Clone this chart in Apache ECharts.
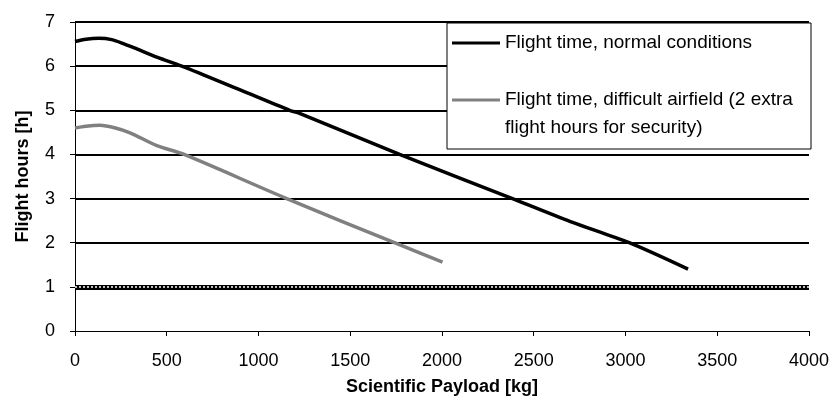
<!DOCTYPE html>
<html>
<head>
<meta charset="utf-8">
<script src="https://cdn.jsdelivr.net/npm/echarts@6/dist/echarts.min.js"></script>
<style>
  html, body { margin: 0; padding: 0; background: #fff; }
  #chart { width: 832px; height: 409px; }
</style>
</head>
<body>
<div id="chart"></div>
<script>
// Payload (kg) vs. flight hours
const normalPayload = [0, 60, 130, 200, 270, 337, 450, 582, 900, 1170, 1224, 1769, 2384, 2700, 3020, 3341];
const normalHours   = [6.56, 6.61, 6.63, 6.6, 6.5, 6.39, 6.2, 6.0, 5.46, 5.0, 4.93, 4.0, 3.0, 2.48, 2.0, 1.4];

const difficultPayload = [0, 60, 136, 220, 300, 446, 588, 1154, 1741, 2003];
const difficultHours   = [4.6, 4.64, 4.66, 4.6, 4.49, 4.2, 4.01, 3.0, 2.0, 1.56];

const xTicks = { min: 0, max: 4000, step: 500 };
const yTicks = { min: 0, max: 7, step: 1 };
const limitHours = 1;

const nameNormal = 'Flight time, normal conditions';
const nameDifficult = 'Flight time, difficult airfield (2 extra flight hours for security)';
const difficultLines = ['Flight time, difficult airfield (2 extra', 'flight hours for security)'];

const FONT = 'Liberation Sans';

function pairs(xs, ys) { return xs.map((x, i) => [x, ys[i]]); }

const chart = echarts.init(document.getElementById('chart'));

const gridColors = [];
for (let v = yTicks.min; v <= yTicks.max; v += yTicks.step) {
  gridColors.push(v <= limitHours ? 'rgba(0,0,0,0)' : '#000');
}

chart.setOption({
  animation: false,
  backgroundColor: '#fff',
  grid: { left: 75, right: 22, top: 22, bottom: 78, containLabel: false },
  xAxis: {
    type: 'value',
    min: xTicks.min, max: xTicks.max, interval: xTicks.step,
    name: 'Scientific Payload [kg]',
    nameLocation: 'middle',
    nameGap: 47,
    nameMoveOverlap: false,
    nameTextStyle: { fontFamily: FONT, fontWeight: 'bold', fontSize: 18, color: '#000' },
    axisLine: { lineStyle: { color: '#000', width: 1 } },
    axisTick: { show: true, inside: false, length: 5, lineStyle: { color: '#000' } },
    axisLabel: { fontFamily: FONT, fontSize: 18, color: '#000', margin: 21, formatter: v => String(v) },
    splitLine: { show: false }
  },
  yAxis: {
    type: 'value',
    min: yTicks.min, max: yTicks.max, interval: yTicks.step,
    name: 'Flight hours [h]',
    nameLocation: 'middle',
    nameGap: 43,
    nameMoveOverlap: false,
    nameTextStyle: { fontFamily: FONT, fontWeight: 'bold', fontSize: 18, color: '#000' },
    axisLine: { show: true, lineStyle: { color: '#000', width: 1 } },
    axisTick: { show: true, inside: false, length: 5, lineStyle: { color: '#000' } },
    axisLabel: { fontFamily: FONT, fontSize: 18, color: '#000', margin: 20 },
    splitLine: { show: true, lineStyle: { color: gridColors, width: 2 } }
  },
  legend: [
    {
      data: [nameNormal],
      left: 452, top: 33,
      padding: 0,
      icon: 'rect', itemWidth: 48, itemHeight: 3,
      selectedMode: false, z: 12,
      textStyle: { fontFamily: FONT, fontSize: 19, color: '#000', lineHeight: 20 }
    },
    {
      data: [nameDifficult],
      left: 452, top: 58,
      padding: 0,
      icon: 'rect', itemWidth: 48, itemHeight: 3,
      selectedMode: false, z: 12,
      // blank leading line keeps the swatch level with the first text line
      formatter: () => '\n' + difficultLines.join('\n'),
      textStyle: { fontFamily: FONT, fontSize: 19, color: '#000', lineHeight: 28 }
    }
  ],
  graphic: [
    {
      type: 'rect', z: 10,
      shape: { x: 447, y: 23, width: 364, height: 126 },
      style: { fill: '#fff', stroke: '#000', lineWidth: 1 }
    }
  ],
  series: [
    {
      name: 'limit-base', type: 'line', data: [], silent: true,
      markLine: {
        silent: true, symbol: ['none', 'none'], label: { show: false },
        lineStyle: { color: '#000', width: 5, type: 'solid' },
        data: [{ yAxis: limitHours }]
      }
    },
    {
      name: 'limit-dots', type: 'line', data: [], silent: true,
      markLine: {
        silent: true, symbol: ['none', 'none'], label: { show: false },
        lineStyle: { color: '#fff', width: 1.5, type: [2, 2] },
        data: [{ yAxis: limitHours }]
      }
    },
    {
      name: nameNormal, type: 'line',
      data: pairs(normalPayload, normalHours),
      showSymbol: false, smooth: 0.3,
      lineStyle: { color: '#000', width: 3.5 },
      itemStyle: { color: '#000' }
    },
    {
      name: nameDifficult, type: 'line',
      data: pairs(difficultPayload, difficultHours),
      showSymbol: false, smooth: 0.3,
      lineStyle: { color: '#808080', width: 3.5 },
      itemStyle: { color: '#808080' }
    }
  ]
});
</script>
</body>
</html>
